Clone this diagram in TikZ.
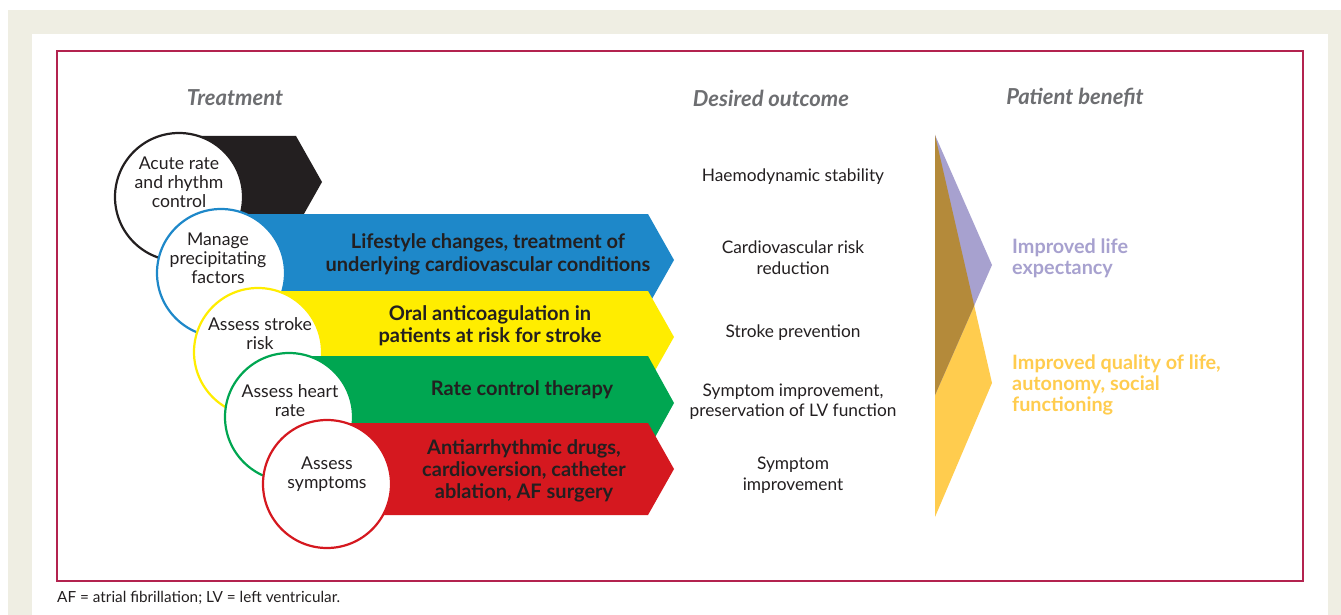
\documentclass[tikz,border=0pt]{standalone}
\usepackage{fontspec}
\setmainfont{Lato}
\definecolor{beige}{HTML}{EFEEE3}
\definecolor{framec}{HTML}{B3234F}
\definecolor{cblack}{HTML}{231F20}
\definecolor{cblue}{HTML}{1E88C9}
\definecolor{cyellow}{HTML}{FFED00}
\definecolor{cgreen}{HTML}{00A651}
\definecolor{cred}{HTML}{D5181F}
\definecolor{hdr}{HTML}{6D6E71}
\definecolor{lav}{HTML}{A7A1CF}
\definecolor{gold}{HTML}{FFCC4E}
\definecolor{brownc}{HTML}{B48A3A}
\definecolor{txt}{HTML}{231F20}
\tikzset{
  circ/.style={circle, fill=white, draw=#1, line width=2.2pt, minimum size=128pt, inner sep=0pt},
  ctext/.style={align=center, inner sep=0pt, text=txt, font=\fontsize{17.6}{19}\selectfont},
  atext/.style={align=center, inner sep=0pt, text=txt, font=\fontsize{20}{22.3}\selectfont\bfseries},
  otext/.style={align=center, inner sep=0pt, text=txt, font=\fontsize{17.3}{20.5}\selectfont},
  hdrtext/.style={inner sep=0pt, text=hdr, font=\fontsize{22}{24}\selectfont\bfseries\itshape},
  btext/.style={align=left, anchor=west, inner sep=0pt, text=#1, font=\fontsize{19.8}{21}\selectfont\bfseries},
}
\begin{document}
\begin{tikzpicture}[x=1pt,y=-1pt]
\useasboundingbox (0,0) rectangle (1341,615);
% background
\fill[white] (0,0) rectangle (1341,615);
\fill[beige] (8,10) rectangle (1341,615);
\fill[white] (32,34) rectangle (1328,615);
\draw[framec, line width=1.5pt] (57,51) rectangle (1303,581);

% headers
\node[hdrtext] (h1) at (235,98) {Treatment};
\node[hdrtext] (h2) at (771,98) {Desired outcome};
\node[hdrtext] (h3) at (1075,98) {Patient benefit};

% black
\fill[cblack] (179,136) -- (296,136) -- (322,182) -- (296,228) -- (179,228) -- cycle;
\node[circ=cblack] (c1) at (179,197) {};
\node[ctext] (t1) at (179,182) {Acute rate\\and rhythm\\control};

% blue
\fill[cblue] (221,214) -- (648,214) -- (674,260) -- (648,306) -- (221,306) -- cycle;
\node[circ=cblue] (c2) at (221,273) {};
\node[ctext] (t2) at (218,258.5) {Manage\\precipitating\\factors};
\node[atext] (a2) at (488,254.5) {Lifestyle changes, treatment of\\underlying cardiovascular conditions};

% yellow
\fill[cyellow] (258,291) -- (648,291) -- (674,337) -- (648,383) -- (258,383) -- cycle;
\node[circ=cyellow] (c3) at (258,352) {};
\node[ctext] (t3) at (260,333.5) {Assess stroke\\risk};
\node[atext] (a3) at (490,325.5) {Oral anticoagulation in\\patients at risk for stroke};

% green
\fill[cgreen] (289,356) -- (648,356) -- (674,403) -- (648,450) -- (289,450) -- cycle;
\node[circ=cgreen] (c4) at (289,417) {};
\node[ctext] (t4) at (290,401) {Assess heart\\rate};
\node[atext] (a4) at (522,390) {Rate control therapy};

% red
\fill[cred] (327,423) -- (648,423) -- (674,469) -- (648,515) -- (327,515) -- cycle;
\node[circ=cred] (c5) at (327,484) {};
\node[ctext] (t5) at (327,474) {Assess\\symptoms};
\node[atext] (a5) at (524,471) {Antiarrhythmic drugs,\\cardioversion, catheter\\ablation, AF surgery};

% outcomes
\node[otext] (o1) at (793,176.5) {Haemodynamic stability};
\node[otext] (o2) at (793,257.5) {Cardiovascular risk\\reduction};
\node[otext] (o3) at (793,332.5) {Stroke prevention};
\node[otext] (o4) at (793,401.5) {Symptom improvement,\\preservation of LV function};
\node[otext] (o5) at (793,475) {Symptom\\improvement};

% benefit shapes
\fill[gold] (935,135) -- (992,383) -- (935,517) -- cycle;
\fill[lav] (935,135) -- (992,265) -- (935,395) -- cycle;
\fill[brownc] (935,135) -- (974.2,305.6) -- (935,395) -- cycle;

\node[btext=lav] (b1) at (1012,258) {Improved life\\expectancy};
\node[btext=gold] (b2) at (1012,384.5) {Improved quality of life,\\autonomy, social\\functioning};

% footer
\node[anchor=west, inner sep=0pt, text=txt, font=\fontsize{15.3}{17}\selectfont] (foot) at (57,597.5) {AF = atrial fibrillation; LV = left ventricular.};
\end{tikzpicture}
\end{document}
